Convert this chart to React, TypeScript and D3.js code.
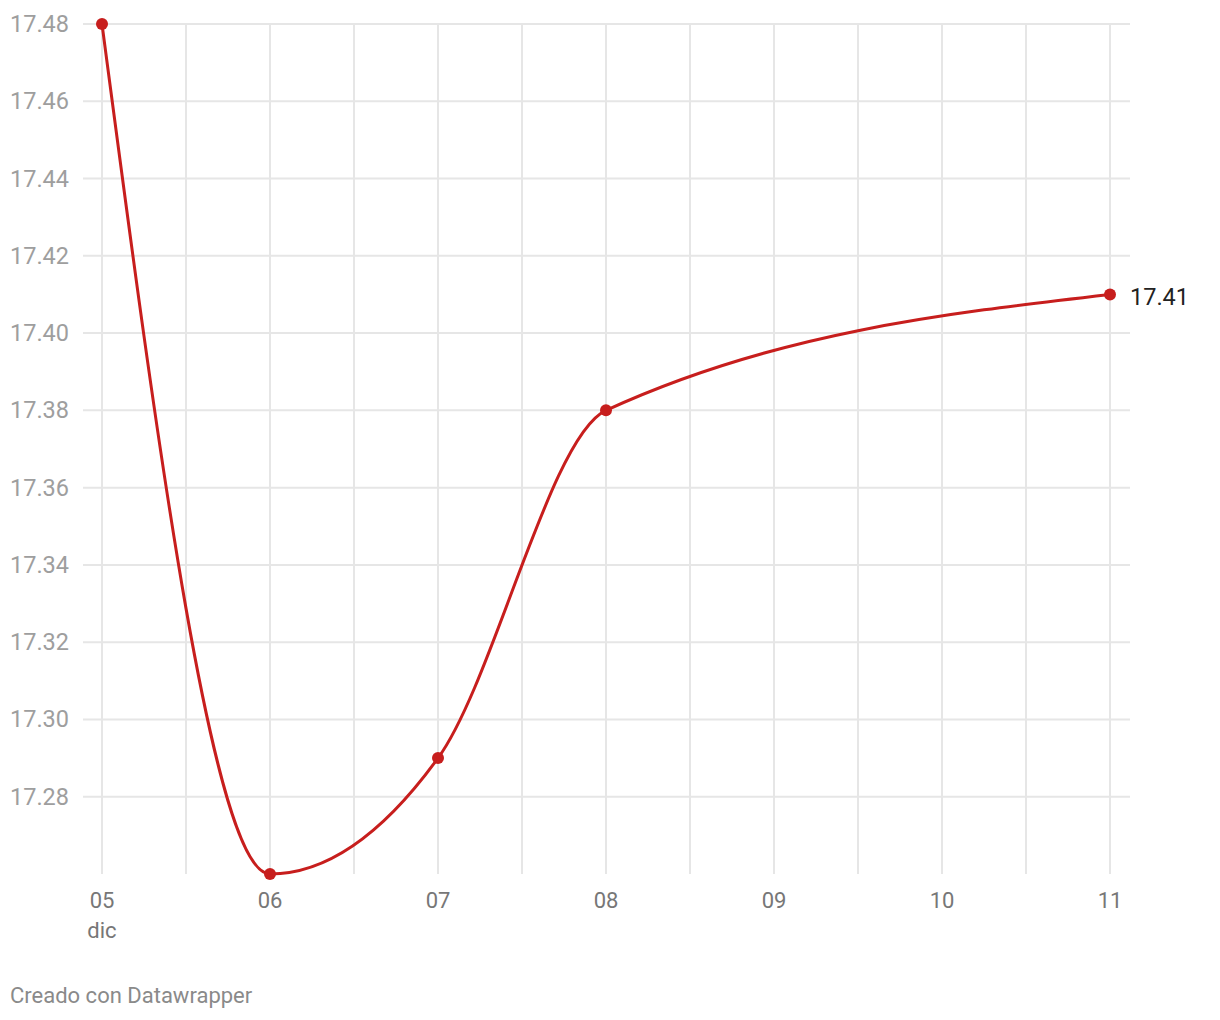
import React from "react";
import * as d3 from "d3";

const days = ["2023-12-05", "2023-12-06", "2023-12-07", "2023-12-08", "2023-12-11"];
const values = [17.48, 17.26, 17.29, 17.38, 17.41];
const yTicks = [17.28, 17.3, 17.32, 17.34, 17.36, 17.38, 17.4, 17.42, 17.44, 17.46, 17.48];
const xTickDays = ["2023-12-05", "2023-12-06", "2023-12-07", "2023-12-08", "2023-12-09", "2023-12-10", "2023-12-11"];
const xTickLabels = ["05", "06", "07", "08", "09", "10", "11"];
const monthLabel = "dic";
const footer = "Creado con Datawrapper";

const W = 1220, H = 1020;
const FONT = "Roboto, sans-serif";

export default function App() {
  const parse = (s: string) => new Date(s + "T00:00:00Z");
  const data = days.map((d, i) => ({ date: parse(d), value: values[i] }));
  const x = d3.scaleUtc().domain([parse(days[0]), parse(days[days.length - 1])]).range([102, 1110]);
  const y = d3.scaleLinear().domain([17.26, 17.48]).range([874, 24]);
  const vGrid = d3.utcHour.every(12)!.range(parse(days[0]), d3.utcHour.offset(parse(days[days.length - 1]), 1));
  const line = d3.line<{ date: Date; value: number }>()
    .x(d => x(d.date))
    .y(d => y(d.value))
    .curve(d3.curveMonotoneX);
  const last = data[data.length - 1];
  const color = "#c71e1d";
  return (
    <svg width={W} height={H} style={{ position: "absolute", left: 0, top: 0 }} fontFamily={FONT}>
      <rect width={W} height={H} fill="#fff" />
      {vGrid.map((d, i) => (
        <line key={"v" + i} x1={x(d)} x2={x(d)} y1={y(17.48)} y2={y(17.26)} stroke="#e6e6e6" strokeWidth={2} />
      ))}
      {yTicks.map((t, i) => (
        <g key={"y" + i}>
          <line x1={83} x2={1130} y1={y(t)} y2={y(t)} stroke="#e6e6e6" strokeWidth={2} />
          <text x={10} y={y(t) + 8} fontSize={23.5} fill="#9e9e9e" textLength={59}>{t.toFixed(2)}</text>
        </g>
      ))}
      <path d={line(data)!} fill="none" stroke={color} strokeWidth={3} />
      {data.map((d, i) => (
        <circle key={"c" + i} cx={x(d.date)} cy={y(d.value)} r={6} fill={color} />
      ))}
      <text x={x(last.date) + 20} y={y(last.value) + 11} fontSize={23.5} fill="#222">{last.value.toFixed(2)}</text>
      {xTickDays.map((d, i) => (
        <text key={"x" + i} x={x(parse(d))} y={908} textAnchor="middle" fontSize={22} fill="#777">{xTickLabels[i]}</text>
      ))}
      <text x={x(parse(xTickDays[0]))} y={938} textAnchor="middle" fontSize={22} fill="#777">{monthLabel}</text>
      <text x={10} y={1003} fontSize={22} fill="#8a8a8a">{footer}</text>
    </svg>
  );
}
